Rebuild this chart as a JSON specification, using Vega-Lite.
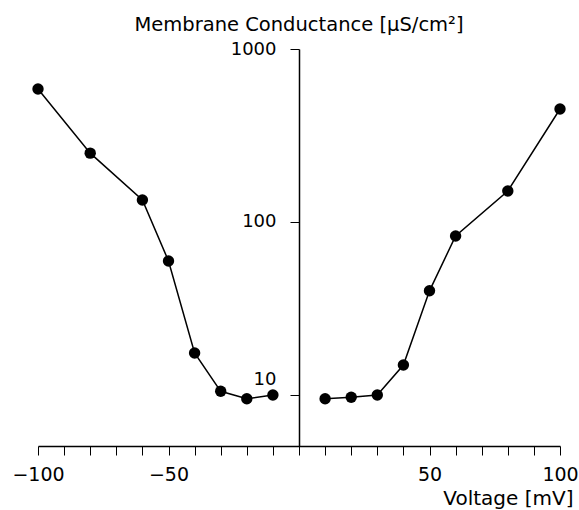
{
  "$schema": "https://vega.github.io/schema/vega-lite/v6.json",
  "width": 522,
  "height": 397,
  "autosize": "none",
  "padding": {"left": 38, "top": 49, "right": 19, "bottom": 64},
  "background": "white",
  "title": {
    "text": "Membrane Conductance [µS/cm²]",
    "font": "DejaVu Sans",
    "fontSize": 19.5,
    "fontWeight": "normal",
    "color": "black",
    "anchor": "middle",
    "frame": "group",
    "offset": 5
  },
  "data": {
    "values": [
      {"v": -100, "g": 587, "side": "neg"},
      {"v": -80, "g": 250, "side": "neg"},
      {"v": -60, "g": 134, "side": "neg"},
      {"v": -50, "g": 59.5, "side": "neg"},
      {"v": -40, "g": 17.5, "side": "neg"},
      {"v": -30, "g": 10.5, "side": "neg"},
      {"v": -20, "g": 9.5, "side": "neg"},
      {"v": -10, "g": 10, "side": "neg"},
      {"v": 10, "g": 9.5, "side": "pos"},
      {"v": 20, "g": 9.7, "side": "pos"},
      {"v": 30, "g": 10, "side": "pos"},
      {"v": 40, "g": 14.9, "side": "pos"},
      {"v": 50, "g": 40, "side": "pos"},
      {"v": 60, "g": 83, "side": "pos"},
      {"v": 80, "g": 151, "side": "pos"},
      {"v": 100, "g": 450, "side": "pos"}
    ]
  },
  "encoding": {
    "x": {
      "field": "v",
      "type": "quantitative",
      "scale": {"domain": [-100, 100], "nice": false, "zero": false},
      "axis": {
        "values": [-100, -90, -80, -70, -60, -50, -40, -30, -20, -10, 0, 10, 20, 30, 40, 50, 60, 70, 80, 90, 100],
        "labelExpr": "datum.value % 50 == 0 && datum.value != 0 ? datum.label : ''",
        "grid": false,
        "tickSize": 9,
        "labelPadding": 10,
        "labelFont": "DejaVu Sans",
        "labelFontSize": 19,
        "labelColor": "black",
        "labelFlush": false,
        "labelOverlap": false,
        "title": "Voltage [mV]",
        "titleFont": "DejaVu Sans",
        "titleFontSize": 20,
        "titleFontWeight": "normal",
        "titleColor": "black",
        "titleAlign": "right",
        "titleAnchor": "end",
        "titleBaseline": "alphabetic",
        "titleX": 535,
        "titleY": 58
      }
    },
    "y": {
      "field": "g",
      "type": "quantitative",
      "scale": {"type": "log", "domain": [5.07, 1000], "nice": false},
      "axis": {
        "values": [10, 100, 1000],
        "format": "d",
        "offset": -261,
        "grid": false,
        "tickSize": 9,
        "labelPadding": 14,
        "labelFont": "DejaVu Sans",
        "labelFontSize": 18,
        "labelColor": "black",
        "labelFlush": false,
        "labelOverlap": false,
        "labelOffset": {"condition": {"test": "datum.value == 10", "value": -15}, "value": 0},
        "title": null
      }
    }
  },
  "layer": [
    {
      "mark": {"type": "line", "color": "black", "strokeWidth": 1.5},
      "encoding": {"detail": {"field": "side"}}
    },
    {
      "mark": {"type": "point", "filled": true, "color": "black", "opacity": 1, "size": 130, "shape": "circle"}
    }
  ],
  "config": {
    "view": {"stroke": null},
    "axis": {
      "domainColor": "black",
      "domainWidth": 1.5,
      "tickColor": "black",
      "tickWidth": 1
    }
  }
}
